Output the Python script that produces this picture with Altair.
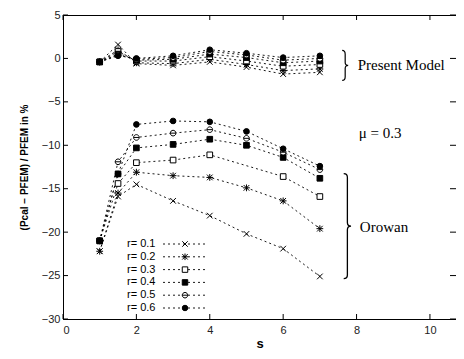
import altair as alt
import pandas as pd

# ---------------- data ----------------
s_vals = [1, 1.5, 2, 3, 4, 5, 6, 7]
r_labels = ["r= 0.1", "r= 0.2", "r= 0.3", "r= 0.4", "r= 0.5", "r= 0.6"]

orowan_r01 = [-22.2, -15.9, -14.5, -16.4, -18.1, -20.2, -21.9, -25.1]
orowan_r02 = [-22.2, -15.5, -13.1, -13.5, -13.7, -14.9, -16.4, -19.6]
orowan_r03 = [-21.0, -14.4, -12.0, -11.7, -11.1, None, -13.6, -15.9]
orowan_r04 = [-21.0, -13.3, -10.3, -9.9, -9.3, -10.0, -11.4, -13.8]
orowan_r05 = [-21.0, -11.9, -9.1, -8.6, -8.2, -9.2, -10.8, -12.8]
orowan_r06 = [-21.0, -13.3, -7.6, -7.2, -7.3, -8.4, -10.4, -12.4]

present_r01 = [-0.4, 1.6, -0.6, -0.8, -0.4, -1.0, -1.8, -1.6]
present_r02 = [-0.4, 1.0, -0.5, -0.6, -0.1, -0.7, -1.4, -1.2]
present_r03 = [-0.4, 0.8, -0.3, -0.3, 0.2, -0.3, -0.9, -0.7]
present_r04 = [-0.4, 0.5, -0.2, -0.1, 0.5, 0.1, -0.5, -0.3]
present_r05 = [-0.4, 0.4, -0.1, 0.1, 0.8, 0.4, -0.2, 0.0]
present_r06 = [-0.4, 0.3, 0.0, 0.3, 1.0, 0.6, 0.1, 0.3]

x_ticks = [0, 2, 4, 6, 8, 10]
y_ticks = [5, 0, -5, -10, -15, -20, -25, -30]

ann_text = ["Present Model", "\u03bc = 0.3", "Orowan"]
ann_x = [8.03, 8.06, 8.09]
ann_y = [-0.8, -8.6, -19.4]

brace_small_x = [7.69]
brace_small_y = [-0.8]
brace_big_x = [7.75]
brace_big_y = [-19.3]

# ---------------- build tables ----------------
orowan = [orowan_r01, orowan_r02, orowan_r03, orowan_r04, orowan_r05, orowan_r06]
present = [present_r01, present_r02, present_r03, present_r04, present_r05, present_r06]
rows = []
for model, series in (("Orowan", orowan), ("Present", present)):
    for lab, vals in zip(r_labels, series):
        for s, v in zip(s_vals, vals):
            if v is not None:
                rows.append({"model": model, "r": lab, "key": model + lab, "s": s, "v": v})
df = pd.DataFrame(rows)
df_xt = pd.DataFrame({"t": x_ticks})
df_yt = pd.DataFrame({"t": y_ticks})
df_ann = pd.DataFrame({"text": ann_text, "x": ann_x, "y": ann_y})
df_bs = pd.DataFrame({"x": brace_small_x, "y": brace_small_y})
df_bb = pd.DataFrame({"x": brace_big_x, "y": brace_big_y})
df_leg = pd.DataFrame({"r": r_labels, "row": list(range(len(r_labels)))})

W, H = 393, 304
FONT = "Liberation Sans"

xs = alt.Scale(domain=[0, 10.71], nice=False, zero=False)
ys = alt.Scale(domain=[-30, 5], nice=False, zero=False)

shape_paths = [
    "M -1 -1 L 1 1 M -1 1 L 1 -1",
    "M -1 -1 L 1 1 M -1 1 L 1 -1 M 0 -1.2 L 0 1.2 M -1.2 0 L 1.2 0",
    "square",
    "square",
    "M -1 0 A 1 1 0 1 0 1 0 A 1 1 0 1 0 -1 0 Z M -1 0 L 1 0",
    "circle",
]
fills = ["white", "white", "white", "black", "white", "black"]
shape_enc = alt.Shape("r:N", scale=alt.Scale(domain=r_labels, range=shape_paths), legend=None)
fill_enc = alt.Fill("r:N", scale=alt.Scale(domain=r_labels, range=fills), legend=None)

X = alt.X("s:Q", scale=xs, axis=alt.Axis(values=x_ticks, tickSize=0, title="s", grid=False,
                                          labelFont=FONT, labelFontSize=11, labelColor="#222",
                                          labelPadding=5, titleFont=FONT, titleFontSize=13,
                                          titleFontWeight="bold", titlePadding=2,
                                          domainColor="black", format="d"))
Y = alt.Y("v:Q", scale=ys, axis=alt.Axis(values=y_ticks, tickSize=0, grid=False,
                                          title="(Pcal \u2212 PFEM) / PFEM in %",
                                          labelFont=FONT, labelFontSize=11, labelColor="#222",
                                          labelPadding=3, titleFont=FONT, titleFontSize=10,
                                          titleFontWeight="bold", titlePadding=12,
                                          domainColor="black"))

lines = alt.Chart(df).mark_line(color="black", strokeDash=[2, 3], strokeWidth=0.9).encode(
    x=X, y=Y, detail="key:N", order="s:Q")
points = alt.Chart(df).mark_point(filled=True, stroke="black", strokeWidth=1, opacity=1, size=32).encode(
    x=alt.X("s:Q", scale=xs), y=alt.Y("v:Q", scale=ys), shape=shape_enc, fill=fill_enc)

tick_b = alt.Chart(df_xt).mark_rule(color="black").encode(
    x=alt.X("t:Q", scale=xs), y=alt.value(H), y2=alt.value(H - 5))
tick_t = alt.Chart(df_xt).mark_rule(color="black").encode(
    x=alt.X("t:Q", scale=xs), y=alt.value(0), y2=alt.value(5))
tick_l = alt.Chart(df_yt).mark_rule(color="black").encode(
    y=alt.Y("t:Q", scale=ys), x=alt.value(0), x2=alt.value(5))
tick_r = alt.Chart(df_yt).mark_rule(color="black").encode(
    y=alt.Y("t:Q", scale=ys), x=alt.value(W), x2=alt.value(W - 6))

ann = alt.Chart(df_ann).mark_text(align="left", baseline="middle", font="Liberation Serif",
                                  fontSize=15, color="black").encode(
    x=alt.X("x:Q", scale=xs), y=alt.Y("y:Q", scale=ys), text="text:N")

brace_small = alt.Chart(df_bs).mark_point(
    shape="M -0.2 -1 Q 0 -1 0 -0.75 L 0 -0.2 Q 0 0 0.2 0 Q 0 0 0 0.2 L 0 0.75 Q 0 1 -0.2 1",
    size=900, filled=False, stroke="black", strokeWidth=1.2, opacity=1).encode(
    x=alt.X("x:Q", scale=xs), y=alt.Y("y:Q", scale=ys))
brace_big = alt.Chart(df_bb).mark_point(
    shape="M -0.07 -1 Q 0 -1 0 -0.93 L 0 -0.07 Q 0 0 0.07 0 Q 0 0 0 0.07 L 0 0.93 Q 0 1 -0.07 1",
    size=11025, filled=False, stroke="black", strokeWidth=1.3, opacity=1).encode(
    x=alt.X("x:Q", scale=xs), y=alt.Y("y:Q", scale=ys))

main = alt.layer(lines, points, tick_b, tick_t, tick_l, tick_r, ann, brace_small, brace_big)

row_scale = alt.Scale(domain=[0, 5], range=[229, 293])
leg_text = alt.Chart(df_leg).mark_text(align="left", baseline="middle", font=FONT, fontSize=11,
                                       color="black").encode(
    x=alt.value(64), y=alt.Y("row:Q", scale=row_scale, axis=None), text="r:N")
leg_rule = alt.Chart(df_leg).mark_rule(color="black", strokeDash=[2, 3], strokeWidth=0.9).encode(
    x=alt.value(100), x2=alt.value(144), y=alt.Y("row:Q", scale=row_scale, axis=None))
leg_pts = alt.Chart(df_leg).mark_point(filled=True, stroke="black", strokeWidth=1, opacity=1, size=30).encode(
    x=alt.value(122), y=alt.Y("row:Q", scale=row_scale, axis=None), shape=shape_enc, fill=fill_enc)
legend = alt.layer(leg_text, leg_rule, leg_pts)

chart = alt.layer(main, legend).resolve_scale(y="independent").properties(
    width=W, height=H,
    padding={"left": 55, "top": 7, "right": 0, "bottom": 32},
    autosize=alt.AutoSizeParams(type="none"),
    background="white",
).configure_view(stroke="black", strokeWidth=1)

chart.save("out.html", embed_options={"renderer": "svg", "actions": False})
